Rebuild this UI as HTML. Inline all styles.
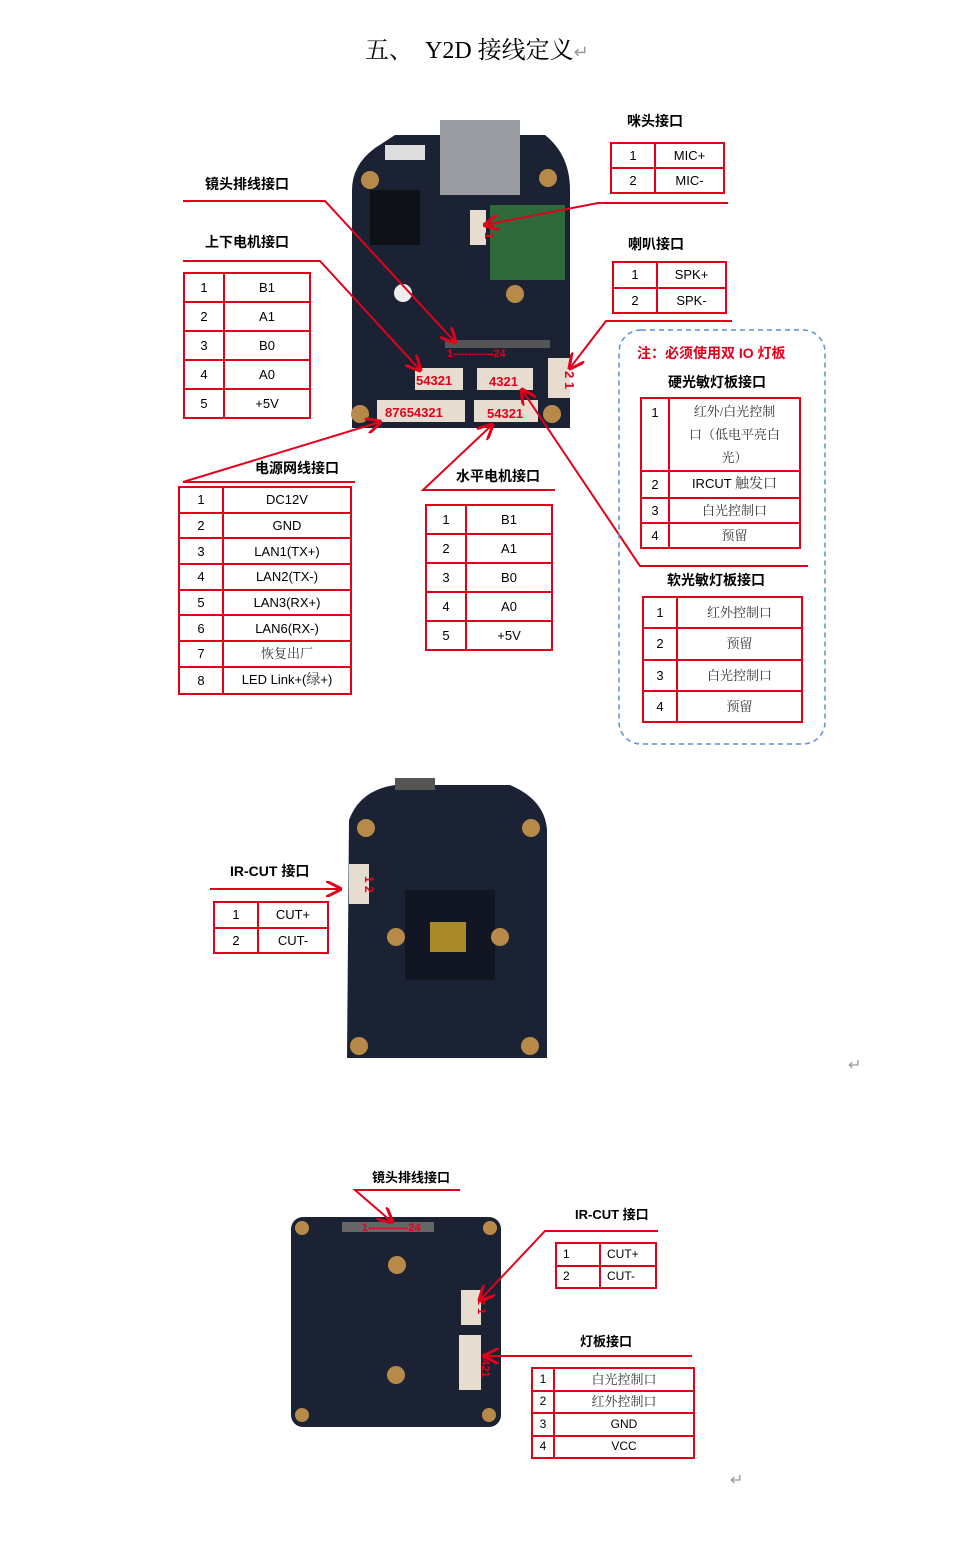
<!DOCTYPE html>
<html><head><meta charset="utf-8"><style>
body{margin:0;background:#fff;width:970px;height:1556px;position:relative;overflow:hidden;font-family:"Liberation Sans","Noto Sans CJK SC",sans-serif}
.a{position:absolute}
.l{position:absolute;font-weight:bold;font-size:14px;white-space:nowrap}
table.t{position:absolute;border-collapse:collapse;border:2.5px solid #e3001b}
table.t td{border:2px solid #e3001b;text-align:center;font-size:13px;padding:0;line-height:15px}
.s{font-family:"Liberation Serif","Noto Serif CJK SC",serif;color:#333;font-size:14px}
</style></head><body>
<div class="a" style="left:365px;top:30px;font-family:'Liberation Serif','Noto Serif CJK SC',serif;font-size:24px">五、&nbsp;&nbsp;Y2D 接线定义<span style="color:#999;font-size:18px">↵</span></div>

<svg class="a" style="left:0;top:0" width="970" height="1556">
<defs><marker id="ar" markerWidth="8" markerHeight="8" refX="7" refY="4" orient="auto"><path d="M0,0 L8,4 L0,8" fill="none" stroke="#e3001b" stroke-width="1.5"/></marker></defs>
<!-- PCB1 -->
<path d="M352,190 Q352,165 375,148 L395,135 L545,135 Q570,155 570,190 L570,428 L352,428 Z" fill="#1b2233"/>
<rect x="440" y="120" width="80" height="75" fill="#9a9ea3"/>
<rect x="385" y="145" width="40" height="15" fill="#ddd"/>
<rect x="490" y="205" width="75" height="75" fill="#2f6b3a"/>
<rect x="370" y="190" width="50" height="55" fill="#0e1118"/>
<circle cx="370" cy="180" r="9" fill="#b88a4a"/><circle cx="548" cy="178" r="9" fill="#b88a4a"/>
<circle cx="515" cy="294" r="9" fill="#b88a4a"/><circle cx="403" cy="293" r="9" fill="#eee"/>
<circle cx="360" cy="414" r="9" fill="#b88a4a"/><circle cx="552" cy="414" r="9" fill="#b88a4a"/>
<rect x="470" y="210" width="16" height="35" fill="#e6ddd0"/>
<rect x="548" y="358" width="22" height="40" fill="#e6ddd0"/>
<rect x="415" y="368" width="48" height="22" fill="#e6ddd0"/><rect x="477" y="368" width="56" height="22" fill="#e6ddd0"/>
<rect x="377" y="400" width="88" height="22" fill="#e6ddd0"/><rect x="474" y="400" width="64" height="22" fill="#e6ddd0"/>
<rect x="445" y="340" width="105" height="8" fill="#555"/>
<g fill="#e3001b" font-size="13" font-weight="bold">
<text x="416" y="385">54321</text><text x="489" y="386">4321</text><text x="385" y="417">87654321</text><text x="487" y="418">54321</text>
<text x="447" y="357" font-size="11">1-----------24</text>
<text x="472" y="220" transform="rotate(90 478 227)">2 1</text>
<text x="552" y="370" transform="rotate(90 558 377)">2 1</text></g>
<!-- PCB2 -->
<path d="M349,820 Q360,790 395,785 L510,785 Q545,800 547,830 L547,1058 L347,1058 Z" fill="#1b2233"/>
<rect x="395" y="778" width="40" height="12" fill="#555"/>
<rect x="405" y="890" width="90" height="90" fill="#111622"/>
<rect x="430" y="922" width="36" height="30" fill="#a88a2a"/>
<circle cx="396" cy="937" r="9" fill="#b88a4a"/><circle cx="500" cy="937" r="9" fill="#b88a4a"/>
<circle cx="366" cy="828" r="9" fill="#b88a4a"/><circle cx="531" cy="828" r="9" fill="#b88a4a"/>
<circle cx="359" cy="1046" r="9" fill="#b88a4a"/><circle cx="530" cy="1046" r="9" fill="#b88a4a"/>
<rect x="349" y="864" width="20" height="40" fill="#e6ddd0"/>
<text x="352" y="875" fill="#e3001b" font-size="12" font-weight="bold" transform="rotate(90 358 882)">1 2</text>
<!-- PCB3 -->
<rect x="291" y="1217" width="210" height="210" rx="12" fill="#1b2233"/>
<circle cx="302" cy="1228" r="7" fill="#b88a4a"/><circle cx="490" cy="1228" r="7" fill="#b88a4a"/>
<circle cx="302" cy="1415" r="7" fill="#b88a4a"/><circle cx="489" cy="1415" r="7" fill="#b88a4a"/>
<circle cx="397" cy="1265" r="9" fill="#b88a4a"/><circle cx="396" cy="1375" r="9" fill="#b88a4a"/>
<rect x="342" y="1222" width="92" height="10" fill="#666"/>
<rect x="461" y="1290" width="20" height="35" fill="#e6ddd0"/><rect x="459" y="1335" width="22" height="55" fill="#e6ddd0"/>
<g fill="#e3001b" font-size="11" font-weight="bold"><text x="362" y="1231">1-----------24</text>
<text x="465" y="1298" transform="rotate(90 471 1305)">2 1</text><text x="463" y="1348" transform="rotate(90 470 1360)">3421</text></g>
<!-- lines -->
<g stroke="#e3001b" stroke-width="2" fill="none">
<polyline points="183,201 325,201 455,342" marker-end="url(#ar)"/>
<polyline points="183,261 320,261 420,370" marker-end="url(#ar)"/>
<polyline points="728,203 598,203 485,225" marker-end="url(#ar)"/>
<polyline points="732,321 606,321 570,368" marker-end="url(#ar)"/>
<polyline points="355,482 183,482 380,422" marker-end="url(#ar)"/>
<polyline points="555,490 423,490 492,425" marker-end="url(#ar)"/>
<polyline points="808,566 640,566 522,390" marker-end="url(#ar)"/>
<polyline points="210,889 340,889" marker-end="url(#ar)"/>
<polyline points="460,1190 355,1190 392,1222" marker-end="url(#ar)"/>
<polyline points="658,1231 545,1231 480,1300" marker-end="url(#ar)"/>
<polyline points="692,1356 485,1356" marker-end="url(#ar)"/>
</g>
<rect x="619" y="330" width="206" height="414" rx="22" fill="none" stroke="#5b8fd6" stroke-width="1.5" stroke-dasharray="5,4"/>
</svg>

<div class="l" style="left:205px;top:174px">镜头排线接口</div>
<div class="l" style="left:205px;top:232px">上下电机接口</div>
<div class="l" style="left:627px;top:111px">咪头接口</div>
<div class="l" style="left:628px;top:234px">喇叭接口</div>
<div class="l" style="left:637px;top:343px;color:#e3001b">注：必须使用双 IO 灯板</div>
<div class="l" style="left:668px;top:372px">硬光敏灯板接口</div>
<div class="l" style="left:667px;top:570px">软光敏灯板接口</div>
<div class="l" style="left:255px;top:458px">电源网线接口</div>
<div class="l" style="left:456px;top:466px">水平电机接口</div>
<div class="l" style="left:230px;top:861px">IR-CUT 接口</div>
<div class="l" style="left:372px;top:1167px;font-size:13px">镜头排线接口</div>
<div class="l" style="left:575px;top:1204px;font-size:13px">IR-CUT 接口</div>
<div class="l" style="left:580px;top:1331px;font-size:13px">灯板接口</div>
<div class="a" style="left:848px;top:1055px;color:#999;font-size:16px">↵</div>
<div class="a" style="left:730px;top:1470px;color:#999;font-size:16px">↵</div>

<table class="t" style="left:183px;top:272px;width:128px;height:147px"><tr><td style="width:38px">1</td><td>B1</td></tr><tr><td>2</td><td>A1</td></tr><tr><td>3</td><td>B0</td></tr><tr><td>4</td><td>A0</td></tr><tr><td>5</td><td>+5V</td></tr></table>
<table class="t" style="left:610px;top:142px;width:115px;height:52px"><tr><td style="width:42px">1</td><td>MIC+</td></tr><tr><td>2</td><td>MIC-</td></tr></table>
<table class="t" style="left:612px;top:261px;width:115px;height:53px"><tr><td style="width:42px">1</td><td>SPK+</td></tr><tr><td>2</td><td>SPK-</td></tr></table>
<table class="t" style="left:640px;top:397px;width:161px;height:152px"><tr style="height:73px"><td style="width:26px;vertical-align:top;padding-top:6px">1</td><td class="s" style="line-height:23px">红外/白光控制<br>口（低电平亮白<br>光）</td></tr><tr><td>2</td><td>IRCUT <span class="s">触发口</span></td></tr><tr><td>3</td><td class="s">白光控制口</td></tr><tr><td>4</td><td class="s">预留</td></tr></table>
<table class="t" style="left:642px;top:596px;width:161px;height:127px"><tr><td style="width:32px">1</td><td class="s">红外控制口</td></tr><tr><td>2</td><td class="s">预留</td></tr><tr><td>3</td><td class="s">白光控制口</td></tr><tr><td>4</td><td class="s">预留</td></tr></table>
<table class="t" style="left:178px;top:486px;width:174px;height:209px"><tr><td style="width:42px">1</td><td>DC12V</td></tr><tr><td>2</td><td>GND</td></tr><tr><td>3</td><td>LAN1(TX+)</td></tr><tr><td>4</td><td>LAN2(TX-)</td></tr><tr><td>5</td><td>LAN3(RX+)</td></tr><tr><td>6</td><td>LAN6(RX-)</td></tr><tr><td>7</td><td class="s">恢复出厂</td></tr><tr><td>8</td><td>LED Link+(<span class="s">绿</span>+)</td></tr></table>
<table class="t" style="left:425px;top:504px;width:128px;height:147px"><tr><td style="width:38px">1</td><td>B1</td></tr><tr><td>2</td><td>A1</td></tr><tr><td>3</td><td>B0</td></tr><tr><td>4</td><td>A0</td></tr><tr><td>5</td><td>+5V</td></tr></table>
<table class="t" style="left:213px;top:901px;width:116px;height:53px"><tr><td style="width:42px">1</td><td>CUT+</td></tr><tr><td>2</td><td>CUT-</td></tr></table>
<table class="t" style="left:555px;top:1242px;width:102px;height:47px"><tr><td style="width:36px;text-align:left;padding-left:6px;font-size:12px">1</td><td style="text-align:left;padding-left:6px;font-size:12px">CUT+</td></tr><tr><td style="text-align:left;padding-left:6px;font-size:12px">2</td><td style="text-align:left;padding-left:6px;font-size:12px">CUT-</td></tr></table>
<table class="t" style="left:531px;top:1367px;width:164px;height:92px"><tr><td style="width:20px;font-size:12px">1</td><td class="s" style="font-size:13px">白光控制口</td></tr><tr><td style="font-size:12px">2</td><td class="s" style="font-size:13px">红外控制口</td></tr><tr><td style="font-size:12px">3</td><td style="font-size:12px">GND</td></tr><tr><td style="font-size:12px">4</td><td style="font-size:12px">VCC</td></tr></table>
</body></html>
